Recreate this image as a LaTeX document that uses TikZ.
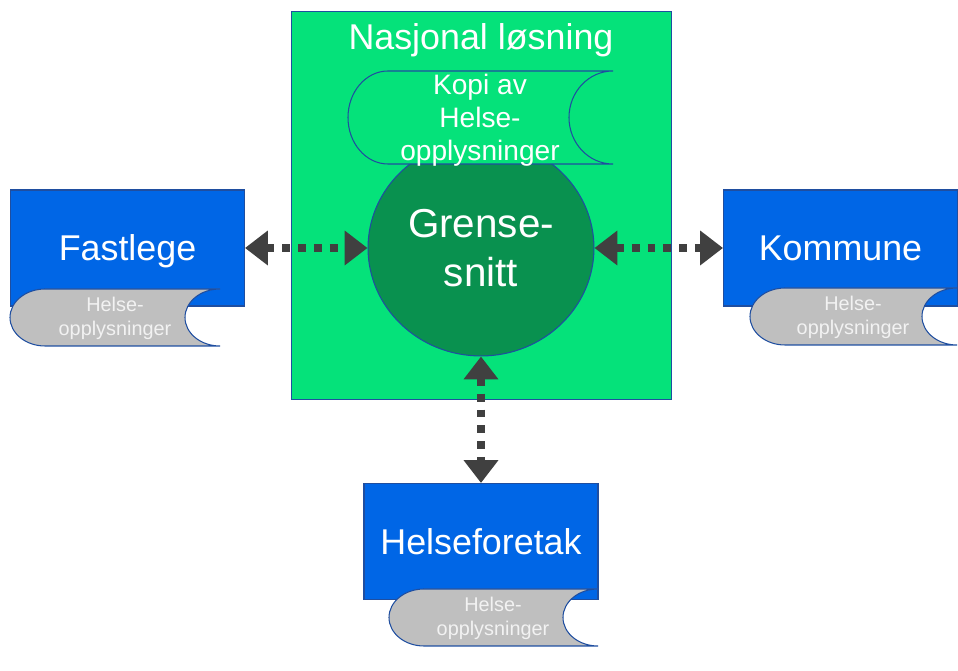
\documentclass[tikz,border=0pt]{standalone}
\usepackage{fontspec}
\setmainfont{Liberation Sans}
\usepackage{xcolor}
\usepackage{tikz}
\usetikzlibrary{shapes,arrows.meta,positioning,calc}

\definecolor{boksblaa}{RGB}{0,102,230}
\definecolor{kantblaa}{RGB}{31,78,160}
\definecolor{nasjonalgronn}{RGB}{5,226,122}
\definecolor{sirkelgronn}{RGB}{9,145,79}
\definecolor{lagergraa}{RGB}{191,191,191}
\definecolor{pilgraa}{RGB}{64,64,64}

\begin{document}
\begin{tikzpicture}[x=0.02cm, y=-0.02cm,
    boks/.style={draw=kantblaa, line width=0.6pt, fill=boksblaa, text=white, text depth=0pt,
        font=\fontsize{20.4}{24}\selectfont, minimum width=4.68cm, minimum height=2.32cm, inner sep=0pt},
    lager/.style={draw=kantblaa, line width=0.6pt, fill=lagergraa},
    lagertekst/.style={text=white!95!black, align=center, font=\fontsize{11.3}{13.6}\selectfont},
    pil/.style={draw=pilgraa, line width=4.5pt, dash pattern=on 4.5pt off 4.5pt,
        {Triangle[length=13pt,width=19pt]}-{Triangle[length=13pt,width=19pt]}}]
            \useasboundingbox (0,0) rectangle (958,671);

            % Nasjonal løsning (grønn boks)
            \node[draw=kantblaa, line width=0.6pt, fill=nasjonalgronn, minimum width=7.62cm,
                minimum height=7.76cm, inner sep=0pt] (nasjonal) at (481.5,205.5) {};
            \node[text=white, font=\fontsize{20.4}{24}\selectfont] (tittel) at (481,40) {Nasjonal løsning};

            % Grensesnitt (sirkel)
            \node[ellipse, draw=kantblaa, line width=0.6pt, fill=sirkelgronn, minimum width=4.52cm,
                minimum height=4.32cm, inner sep=0pt, align=center, text=white,
                font=\fontsize{23}{27.5}\selectfont] (grensesnitt) at (481,248) {Grense-\\snitt};

            % Kopi av helseopplysninger - tegnes over sirkelen
            \draw[draw=kantblaa, line width=0.6pt, fill=nasjonalgronn] (388,164)
                arc[start angle=90, end angle=270, x radius=40, y radius=46.5] -- (613,71)
                arc[start angle=270, end angle=90, x radius=44, y radius=46.5] -- cycle;
            \node[text=white, align=center, font=\fontsize{16}{18.7}\selectfont] (kopi) at (480,120)
                {Kopi av\\Helse-\\opplysninger};

            % Aktørene
            \node[boks] (fastlege) at (127.5,248) {Fastlege};
            \node[boks] (kommune) at (840.5,248) {Kommune};
            \node[boks] (helseforetak) at (481,541.5) {Helseforetak};

            % Helseopplysninger hos hver aktør
            \draw[lager] (45,346) arc[start angle=90, end angle=270, x radius=35, y radius=28.5] -- (220,289)
                arc[start angle=270, end angle=90, x radius=35, y radius=28.5] -- cycle;
            \node[lagertekst] (opplysningerA) at (115,318) {Helse-\\opplysninger};

            \draw[lager] (785,345) arc[start angle=90, end angle=270, x radius=35, y radius=28.5] -- (957,288)
                arc[start angle=270, end angle=90, x radius=35, y radius=28.5] -- cycle;
            \node[lagertekst] (opplysningerB) at (853,317) {Helse-\\opplysninger};

            \draw[lager] (424,646) arc[start angle=90, end angle=270, x radius=35, y radius=28.5] -- (598,589)
                arc[start angle=270, end angle=90, x radius=35, y radius=28.5] -- cycle;
            \node[lagertekst] (opplysningerC) at (493,618) {Helse-\\opplysninger};

            % Piler til og fra grensesnittet
            \draw[pil] (fastlege.east) -- (grensesnitt.west);
            \draw[pil] (grensesnitt.east) -- (kommune.west);
            \draw[pil] (grensesnitt.south) -- (helseforetak.north);
        \end{tikzpicture}
\end{document}
